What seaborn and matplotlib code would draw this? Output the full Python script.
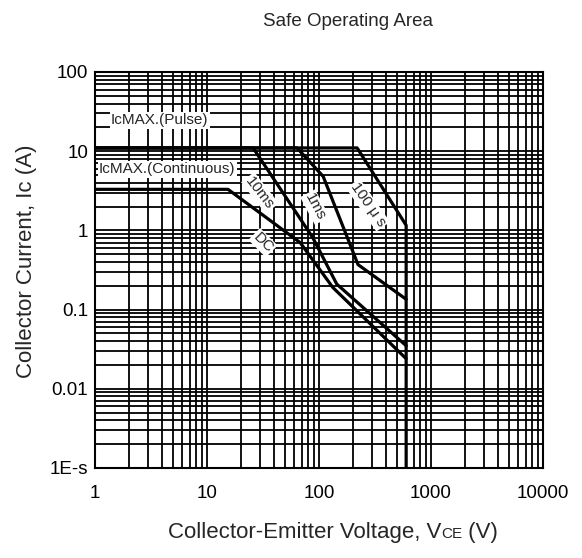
import numpy as np
import pandas as pd
import matplotlib
matplotlib.use("Agg")
import matplotlib.pyplot as plt
import seaborn as sns
from matplotlib.ticker import FixedLocator, LogLocator, NullFormatter

# ---- data ----
dc_v = [1, 15.4, 68, 133, 600]
dc_i = [3.3, 3.3, 0.70, 0.19, 0.024]

ms10_v = [1, 25.8, 88, 144, 600]
ms10_i = [11, 11, 0.81, 0.21, 0.035]

ms1_v = [1, 63.6, 109, 223, 600]
ms1_i = [11, 11, 4.8, 0.37, 0.135]

us100_v = [1, 219, 600, 600]
us100_i = [11, 11, 1.16, 0.001]

x_ticks = [1, 10, 100, 1000, 10000]
x_ticklabels = ["1", "10", "100", "1000", "10000"]
y_ticks = [0.001, 0.01, 0.1, 1, 10, 100]
y_ticklabels = ["1E-s", "0.01", "0.1", "1", "10", "100"]

curve_labels = ["10ms", "1ms", "100 \u03bc s", "DC"]
curve_label_v = [29.7, 92, 274, 31.6]
curve_label_i = [2.98, 1.97, 2.09, 0.70]
curve_label_rot = [-52, -62, -55, -45]

# ---- style ----
sns.set_style("white")
plt.rcParams["font.family"] = ["Liberation Sans", "DejaVu Sans"]

W, H = 582, 558
fig = plt.figure(figsize=(W / 100, H / 100), dpi=100)
ax = fig.add_axes([95 / W, 1 - 468 / H, 448 / W, 396 / H])

ax.set_xscale("log")
ax.set_yscale("log")
ax.set_xlim(1, 10000)
ax.set_ylim(0.001, 100)

series = [(dc_v, dc_i), (ms10_v, ms10_i), (ms1_v, ms1_i), (us100_v, us100_i)]
for v, i in series:
    df = pd.DataFrame({"V": v, "I": i})
    sns.lineplot(data=df, x="V", y="I", sort=False, estimator=None,
                 color="black", lw=2.3, ax=ax, zorder=3)

ax.xaxis.set_major_locator(FixedLocator(x_ticks))
ax.set_xticklabels(x_ticklabels)
ax.yaxis.set_major_locator(FixedLocator(y_ticks))
ax.set_yticklabels(y_ticklabels)
ax.xaxis.set_minor_locator(LogLocator(base=10, subs=np.arange(2, 10)))
ax.yaxis.set_minor_locator(LogLocator(base=10, subs=np.arange(2, 10)))
ax.xaxis.set_minor_formatter(NullFormatter())
ax.yaxis.set_minor_formatter(NullFormatter())
ax.tick_params(which="both", length=0, labelsize=13.5, colors="black")
ax.tick_params(axis="x", pad=12)
ax.tick_params(axis="y", pad=5)
ax.grid(which="both", color="black", lw=1.3)
ax.set_axisbelow(True)
for s in ax.spines.values():
    s.set_color("black")
    s.set_linewidth(1.5)
ax.set_xlabel("")
ax.set_ylabel("")

# IcMAX labels
box = dict(facecolor="white", edgecolor="none", pad=1.0)
ax.text(1.39, 24.6, "IcMAX.(Pulse)", fontsize=11, va="center", ha="left",
        bbox=box, zorder=4)
ax.text(1.085, 5.9, "IcMAX.(Continuous)", fontsize=11, va="center", ha="left",
        bbox=box, zorder=4)

for lab, v, i, r in zip(curve_labels, curve_label_v, curve_label_i, curve_label_rot):
    ax.text(v, i, lab, fontsize=11, rotation=r, ha="center", va="center",
            rotation_mode="anchor", bbox=box, zorder=4)

# Title and axis labels
fig.text(348 / W, 1 - 22 / H, "Safe Operating Area", fontsize=13.5,
         ha="center", va="center")
fig.text(27 / W, 1 - 261 / H, "Collector Current, Ic (A)", fontsize=16,
         rotation=90, ha="center", va="center")

# x label with small-caps "CE"
fig.canvas.draw()
r = fig.canvas.get_renderer()
parts = [("Collector-Emitter Voltage, V", 16), ("CE", 11), (" (V)", 16)]
texts = []
widths = []
base_y = 1 - 538 / H
for s, fs in parts:
    t = fig.text(0, base_y, s, fontsize=fs, ha="left", va="baseline")
    texts.append(t)
    widths.append(t.get_window_extent(renderer=r).width)
total = sum(widths)
x0 = 333 - total / 2
for t, w in zip(texts, widths):
    t.set_x(x0 / W)
    x0 += w

fig.savefig("out.png", dpi=100)
